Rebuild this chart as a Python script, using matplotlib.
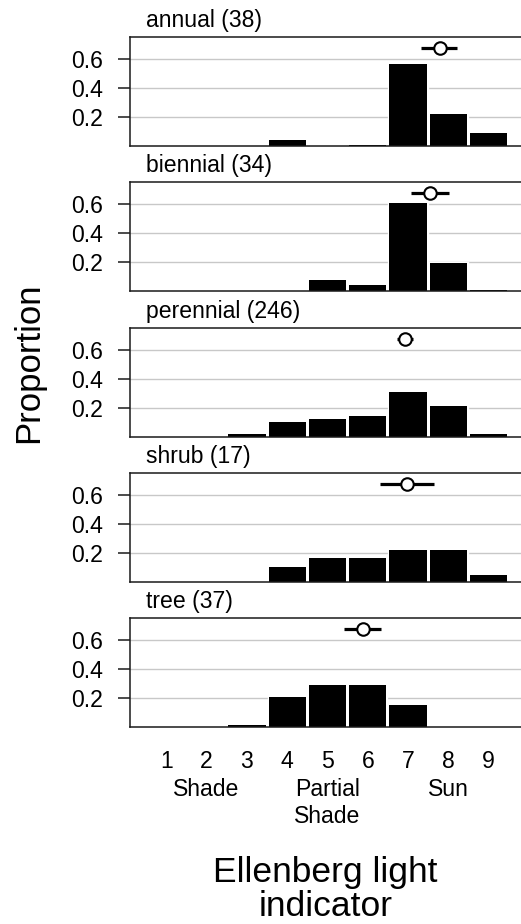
import matplotlib
matplotlib.use('Agg')
import matplotlib.pyplot as plt
import matplotlib.patheffects as pe

plt.rcParams['font.family'] = ['Liberation Sans', 'DejaVu Sans']

# ---------------- data ----------------
groups = ['annual', 'biennial', 'perennial', 'shrub', 'tree']
counts = [38, 34, 246, 17, 37]
light_levels = [1, 2, 3, 4, 5, 6, 7, 8, 9]
tick_labels = ['1', '2\nShade', '3', '4', '5\nPartial\nShade', '6', '7', '8\nSun', '9']
y_ticks = [0.2, 0.4, 0.6]
y_tick_labels = ['0.2', '0.4', '0.6']

annual = [0, 0, 0, 0.040, 0, 0.010, 0.568, 0.223, 0.092]
biennial = [0, 0, 0, 0, 0.076, 0.046, 0.607, 0.193, 0.012]
perennial = [0, 0, 0.015, 0.099, 0.124, 0.140, 0.308, 0.209, 0.017]
shrub = [0, 0, 0, 0.105, 0.165, 0.165, 0.223, 0.223, 0.046]
tree = [0, 0, 0.015, 0.205, 0.288, 0.288, 0.152, 0, 0]
proportions = [annual, biennial, perennial, shrub, tree]

mean_light = [7.78, 7.55, 6.93, 6.97, 5.87]
ci_low = [7.32, 7.07, 6.72, 6.31, 5.40]
ci_high = [8.22, 8.02, 7.12, 7.65, 6.32]
mean_y = 0.675

# ---------------- layout ----------------
W, H = 521, 924
fig = plt.figure(figsize=(W / 100, H / 100), dpi=100)
left_px, right_px = 130, 521
top0, step, height = 37, 145.3, 109
fs = 16.6
dark = '#1a1a1a'

axes = []
for i, (g, n, vals) in enumerate(zip(groups, counts, proportions)):
    top = top0 + i * step
    ax = fig.add_axes([left_px / W, 1 - (top + height) / H,
                       (right_px - left_px) / W, height / H])
    axes.append(ax)
    ax.bar(light_levels, vals, width=0.925, color='black', linewidth=0, zorder=3,
           path_effects=[pe.withStroke(linewidth=2.4, foreground='white')])
    m = mean_light[i]
    ax.errorbar([m], [mean_y], xerr=[[m - ci_low[i]], [ci_high[i] - m]],
                fmt='o', color='black', mfc='white', mec='black', ms=9, mew=1.5,
                elinewidth=2.3, capsize=0, zorder=5)
    ax.set_xlim(0.1, 9.8)
    ax.set_ylim(0, 0.752)
    ax.set_yticks(y_ticks)
    ax.set_yticklabels(y_tick_labels, fontsize=fs)
    ax.tick_params(axis='y', length=9, width=1.1, color=dark, pad=10.5)
    ax.yaxis.grid(True, color='#c8c8c8', linewidth=1.0)
    ax.set_axisbelow(True)
    ax.set_xticks(light_levels)
    if i < len(groups) - 1:
        ax.set_xticklabels([])
    else:
        ax.set_xticklabels(tick_labels, fontsize=fs)
        for lbl in ax.get_xticklabels():
            lbl.set_linespacing(1.25)
    ax.tick_params(axis='x', length=0, pad=16.5)
    for s in ['left', 'top', 'bottom']:
        ax.spines[s].set_color(dark)
        ax.spines[s].set_linewidth(1.1)
        ax.spines[s].set_zorder(6)
    ax.spines['right'].set_visible(False)
    ax.text(0.041, 1.045, f'{g} ({n})', transform=ax.transAxes, fontsize=fs,
            ha='left', va='bottom')

axes[-1].set_xlabel('Ellenberg light\nindicator', fontsize=25.5, linespacing=1.05,
                    labelpad=20)
fig.text(29 / W, 1 - 363 / H, 'Proportion', rotation=90, fontsize=25,
         ha='center', va='center')

fig.savefig('out.png', dpi=100)
